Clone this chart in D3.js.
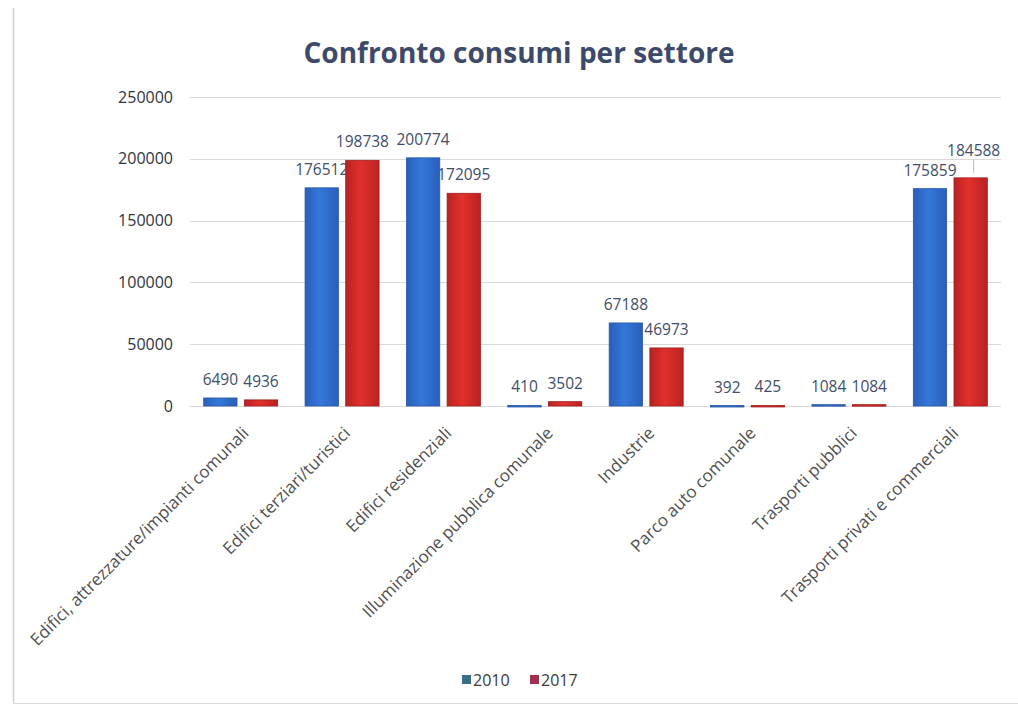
<!DOCTYPE html>
<html>
<head>
<meta charset="utf-8">
<script src="https://cdn.jsdelivr.net/npm/d3@7"></script>
<style>
  body { margin: 0; background: #fff; }
  text { font-family: "Open Sans", Lato, sans-serif; }
</style>
</head>
<body>
<div id="chart"></div>
<script>
// dati
const categories = [
  "Edifici, attrezzature/impianti comunali",
  "Edifici terziari/turistici",
  "Edifici residenziali",
  "Illuminazione pubblica comunale",
  "Industrie",
  "Parco auto comunale",
  "Trasporti pubblici",
  "Trasporti privati e commerciali"
];
const years = ["2010", "2017"];
const values2010 = [6490, 176512, 200774, 410, 67188, 392, 1084, 175859];
const values2017 = [4936, 198738, 172095, 3502, 46973, 425, 1084, 184588];
const yTicks = [0, 50000, 100000, 150000, 200000, 250000];

const W = 1018, H = 706;
const plot = { left: 190, right: 1001, top: 97, bottom: 406 };

const svg = d3.select("#chart")
  .append("svg")
  .attr("width", W)
  .attr("height", H);

// cornice del grafico (solo bordo sinistro e inferiore visibili)
svg.append("line")
  .attr("x1", 13.5).attr("x2", 13.5).attr("y1", 8).attr("y2", 703)
  .attr("stroke", "#cfcfcf").attr("stroke-width", 1.5);
svg.append("line")
  .attr("x1", 13).attr("x2", W).attr("y1", 703.5).attr("y2", 703.5)
  .attr("stroke", "#dcdcdc").attr("stroke-width", 1);

// gradienti per le barre
const defs = svg.append("defs");
function makeGrad(id, edge, mid) {
  const g = defs.append("linearGradient").attr("id", id)
    .attr("x1", "0%").attr("x2", "100%").attr("y1", "0%").attr("y2", "0%");
  g.append("stop").attr("offset", "0%").attr("stop-color", edge);
  g.append("stop").attr("offset", "45%").attr("stop-color", mid);
  g.append("stop").attr("offset", "100%").attr("stop-color", edge);
}
makeGrad("gBlue", "#2a5fb8", "#3478da");
makeGrad("gRed", "#b82222", "#e2312c");

const fills = { "2010": "url(#gBlue)", "2017": "url(#gRed)" };
const strokes = { "2010": "#2856a6", "2017": "#a01d1d" };

// scale
const x0 = d3.scaleBand()
  .domain(categories)
  .range([plot.left, plot.right])
  .paddingInner(0.27)
  .paddingOuter(0.135);

const x1 = d3.scaleBand()
  .domain(years)
  .range([0, x0.bandwidth()])
  .paddingInner(0.18);

const y = d3.scaleLinear()
  .domain([0, 250000])
  .range([plot.bottom, plot.top]);

// griglia orizzontale
svg.append("g")
  .selectAll("line")
  .data(yTicks)
  .enter()
  .append("line")
  .attr("x1", plot.left)
  .attr("x2", plot.right)
  .attr("y1", d => Math.round(y(d)) + 0.5)
  .attr("y2", d => Math.round(y(d)) + 0.5)
  .attr("stroke", "#d9d9d9")
  .attr("stroke-width", 1);

// asse y (solo etichette)
const yAxis = svg.append("g")
  .attr("transform", "translate(" + (plot.left - 17) + ",0)")
  .call(d3.axisLeft(y).tickValues(yTicks).tickSize(0).tickPadding(0).tickFormat(d3.format("d")));
yAxis.select(".domain").remove();
yAxis.selectAll("text")
  .style("font-family", "'Open Sans', sans-serif")
  .style("font-size", "16px")
  .attr("fill", "#2f3440");

// dati per le barre
const rows = categories.map((c, i) => ({ cat: c, vals: [
  { year: "2010", value: values2010[i] },
  { year: "2017", value: values2017[i] }
]}));

// etichette dati (disegnate sotto le barre, come nell'originale)
const labelData = [];
rows.forEach(r => {
  r.vals.forEach(v => {
    labelData.push({
      cat: r.cat, year: v.year, value: v.value,
      cx: x0(r.cat) + x1(v.year) + x1.bandwidth() / 2,
      top: y(v.value),
      by: y(v.value) - 13,
      moved: false
    });
  });
});
// evita sovrapposizioni: la seconda etichetta del gruppo sale con una linea guida
for (let i = 1; i < labelData.length; i += 2) {
  const a = labelData[i - 1], b = labelData[i];
  const wa = String(a.value).length * 8.7, wb = String(b.value).length * 8.7;
  const overlapX = (a.cx + wa / 2) > (b.cx - wb / 2);
  if (overlapX && Math.abs(a.by - b.by) < 14 && b.value > 50000) {
    b.by = a.by - 20;
    b.cx += 3;
    b.moved = true;
  }
}

svg.append("g")
  .selectAll("line")
  .data(labelData.filter(d => d.moved))
  .enter()
  .append("line")
  .attr("x1", d => d.cx).attr("x2", d => d.cx)
  .attr("y1", d => d.by + 4).attr("y2", d => d.top - 5)
  .attr("stroke", "#9cc3e6")
  .attr("stroke-width", 1);

svg.append("g")
  .selectAll("text")
  .data(labelData)
  .enter()
  .append("text")
  .attr("x", d => d.cx)
  .attr("y", d => d.by)
  .attr("text-anchor", "middle")
  .style("font-size", "15.5px")
  .attr("fill", "#414d6b")
  .text(d => d.value);

// barre
const groups = svg.append("g")
  .selectAll("g")
  .data(rows)
  .enter()
  .append("g")
  .attr("transform", d => "translate(" + x0(d.cat) + ",0)");

groups.selectAll("rect")
  .data(d => d.vals)
  .enter()
  .append("rect")
  .attr("x", d => x1(d.year))
  .attr("y", d => y(d.value))
  .attr("width", x1.bandwidth())
  .attr("height", d => Math.max(y(0) - y(d.value), 1.5))
  .attr("fill", d => fills[d.year])
  .attr("stroke", d => strokes[d.year])
  .attr("stroke-width", 0.8);

// etichette categorie ruotate
svg.append("g")
  .selectAll("text")
  .data(categories)
  .enter()
  .append("text")
  .attr("text-anchor", "end")
  .attr("transform", d => "translate(" + (x0(d) + x0.bandwidth() / 2 + 5) + "," + (plot.bottom + 24) + ")rotate(-45)")
  .attr("dy", "0.35em")
  .style("font-size", "17px")
  .attr("fill", "#505050")
  .text(d => d);

// titolo
svg.append("text")
  .attr("x", 519)
  .attr("y", 63)
  .attr("text-anchor", "middle")
  .style("font-size", "28px")
  .style("font-weight", "bold")
  .attr("fill", "#3d4a6a")
  .text("Confronto consumi per settore");

// legenda
const legendColors = { "2010": "#3a6d86", "2017": "#a3304f" };
const legend = svg.append("g")
  .selectAll("g")
  .data(years)
  .enter()
  .append("g")
  .attr("transform", (d, i) => "translate(" + (462 + i * 68) + ",680)");
legend.append("rect")
  .attr("x", 0).attr("y", -5)
  .attr("width", 9).attr("height", 9)
  .attr("fill", d => legendColors[d]);
legend.append("text")
  .attr("x", 11)
  .attr("y", 0)
  .attr("dy", "0.35em")
  .style("font-size", "16px")
  .attr("fill", "#3a3a3a")
  .text(d => d);
</script>
</body>
</html>
